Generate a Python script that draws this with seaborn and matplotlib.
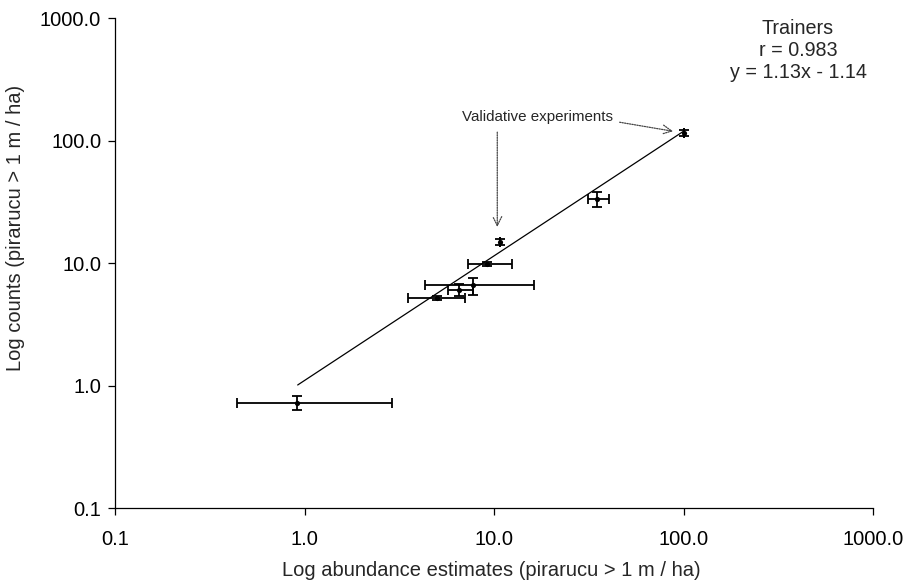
import numpy as np
import pandas as pd
import matplotlib
matplotlib.use("Agg")
import matplotlib.pyplot as plt
import seaborn as sns

# data (linear values, log axes)
abundance = [0.91, 5.0, 6.5, 7.7, 9.2, 10.8, 35.0, 100.0]
counts = [0.72, 5.2, 6.0, 6.6, 9.8, 14.8, 33.3, 115.0]
x_low = [0.44, 3.5, 5.7, 4.3, 7.3, 10.8, 31.3, 100.0]
x_high = [2.9, 7.0, 7.7, 16.3, 12.4, 10.8, 40.5, 100.0]
y_low = [0.63, 5.0, 5.4, 5.5, 9.4, 14.0, 28.6, 108.0]
y_high = [0.82, 5.4, 6.7, 7.6, 10.2, 15.6, 38.0, 122.0]

fit_x = [0.92, 100.0]
fit_y = [1.01, 119.0]

ticks = [0.1, 1, 10, 100, 1000]
tick_labels = ["0.1", "1.0", "10.0", "100.0", "1000.0"]

df = pd.DataFrame({"abundance": abundance, "counts": counts})
xerr = [np.array(abundance) - np.array(x_low), np.array(x_high) - np.array(abundance)]
yerr = [np.array(counts) - np.array(y_low), np.array(y_high) - np.array(counts)]

sns.set_style("ticks")
plt.rcParams["font.family"] = ["Liberation Sans", "DejaVu Sans"]

fig = plt.figure(figsize=(9.08, 5.85), dpi=100)
ax = fig.add_axes([0.1267, 0.1316, 0.8348, 0.8376])

ax.errorbar(abundance, counts, xerr=xerr, yerr=yerr, fmt="none",
            ecolor="black", elinewidth=1.3, capsize=3.5, capthick=1.3, zorder=2)
sns.scatterplot(data=df, x="abundance", y="counts", color="black", s=14,
                edgecolor="black", linewidth=0, ax=ax, zorder=3)
sns.lineplot(x=fit_x, y=fit_y, color="black", linewidth=0.9, ax=ax, zorder=1)

ax.set_xscale("log")
ax.set_yscale("log")
ax.set_xlim(0.1, 1000)
ax.set_ylim(0.1, 1000)
ax.set_xticks(ticks)
ax.set_xticklabels(tick_labels)
ax.set_yticks(ticks)
ax.set_yticklabels(tick_labels)
ax.minorticks_off()
ax.tick_params(axis="both", labelsize=14.5, length=5, width=0.9, colors="black")
ax.tick_params(axis="x", pad=11)
ax.tick_params(axis="y", pad=5)

for side in ["top", "right"]:
    ax.spines[side].set_visible(False)
for side in ["left", "bottom"]:
    ax.spines[side].set_linewidth(0.9)
    ax.spines[side].set_color("black")

ax.set_xlabel("Log abundance estimates (pirarucu > 1 m / ha)", fontsize=14.5)
ax.set_ylabel("Log counts (pirarucu > 1 m / ha)", fontsize=14.5)
ax.xaxis.set_label_coords(0.496, -0.108)
ax.yaxis.set_label_coords(-0.119, 0.571)

ax.text(0.901, 0.998, "Trainers\nr = 0.983\ny = 1.13x - 1.14", transform=ax.transAxes,
        ha="center", va="top", fontsize=14.2, linespacing=1.2)

ax.text(16.9, 157, "Validative experiments", ha="center", va="center", fontsize=10.9)
dotted = dict(arrowstyle="->", linestyle=(0, (1, 1)), color="#444444", linewidth=0.9,
              mutation_scale=16, shrinkA=0, shrinkB=0)
ax.annotate("", xy=(88, 119), xytext=(46, 141), arrowprops=dotted)
ax.annotate("", xy=(10.4, 19.7), xytext=(10.4, 117), arrowprops=dotted)

fig.savefig("out.png", dpi=100)
